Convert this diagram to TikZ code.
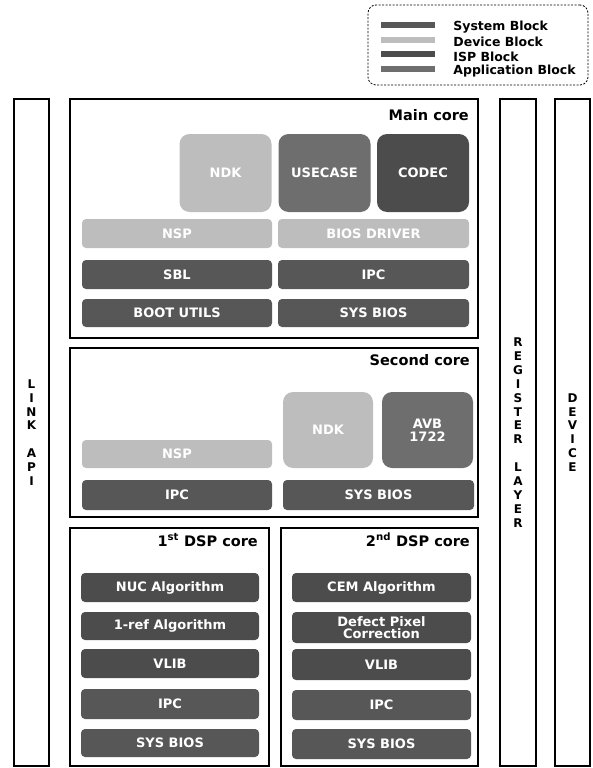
\documentclass[tikz,border=0pt]{standalone}
\usepackage{fontspec}
\setmainfont{DejaVu Sans}
\usetikzlibrary{positioning}

\definecolor{sysgray}{HTML}{575757}
\definecolor{devgray}{HTML}{BDBDBD}
\definecolor{ispgray}{HTML}{4C4C4C}
\definecolor{appgray}{HTML}{6E6E6E}

\tikzset{
	core/.style={draw=black, line width=2.4pt, inner sep=0pt},
	column/.style={core, minimum height=667pt, align=center,
		font=\bfseries\fontsize{12}{13.9}\selectfont},
	title/.style={anchor=base east, inner sep=0pt, font=\bfseries\fontsize{14.5}{16}\selectfont},
	blk/.style={inner sep=0pt, text=white, align=center, rounded corners=4pt,
		font=\bfseries\fontsize{13}{13}\selectfont},
	wide/.style={blk, minimum width=190pt, minimum height=29pt},
	dspbar/.style={blk, minimum width=178pt, minimum height=29pt},
	tile/.style={blk, rounded corners=10pt, minimum width=92pt, minimum height=78pt},
	keybar/.style={inner sep=0pt, minimum width=54pt, minimum height=6pt},
	keytext/.style={right=18pt of #1, yshift=-2pt, inner sep=0pt,
		font=\bfseries\fontsize{12.5}{13}\selectfont}
}

\begin{document}
\begin{tikzpicture}[x=1pt, y=-1pt]
	\useasboundingbox (0,0) rectangle (592,768);

	% Legend:
	\node[draw, dash pattern=on 2pt off 1.5pt, line width=0.8pt, rounded corners=8pt,
		minimum width=220pt, minimum height=80pt] (legend) at (478,45) {};
	\node[keybar, fill=sysgray] (keysys) at (408,25) {};
	\node[keybar, fill=devgray] (keydev) at (408,40) {};
	\node[keybar, fill=ispgray] (keyisp) at (408,54.5) {};
	\node[keybar, fill=appgray] (keyapp) at (408,69) {};
	\node[keytext=keysys] (keysystext) {System Block};
	\node[keytext=keydev] (keydevtext) {Device Block};
	\node[keytext=keyisp] (keyisptext) {ISP Block};
	\node[keytext=keyapp] (keyapptext) {Application Block};

	% Columns:
	\node[column, minimum width=35pt] (linkapi) at (31.5,432.5) {L\\I\\N\\K\\[13.9pt]A\\P\\I};
	\node[column, minimum width=36pt] (reglayer) at (518,432.5) {R\\E\\G\\I\\S\\T\\E\\R\\[13.9pt]L\\A\\Y\\E\\R};
	\node[column, minimum width=35pt] (device) at (572.5,432.5) {D\\E\\V\\I\\C\\E};

	% Cores:
	\node[core, minimum width=408pt, minimum height=239pt] (maincore) at (274,218.5) {};
	\node[core, minimum width=408pt, minimum height=169pt] (secondcore) at (274,432.5) {};
	\node[core, minimum width=199pt, minimum height=238pt] (dspone) at (169.5,647) {};
	\node[core, minimum width=197pt, minimum height=238pt] (dsptwo) at (379.5,647) {};

	\node[title] (maintitle) at (469,120) {Main core};
	\node[title] (secondtitle) at (470,365) {Second core};
	\node[title] (dsponetitle) at (258,546) {1\textsuperscript{st} DSP core};
	\node[title] (dsptwotitle) at (470,546) {2\textsuperscript{nd} DSP core};

	% Main core blocks:
	\node[tile, fill=devgray] (mndk) at (225.5,173) {NDK};
	\node[tile, fill=appgray] (musecase) at (324.5,173) {USECASE};
	\node[tile, fill=ispgray] (mcodec) at (423,173) {CODEC};
	\node[wide, fill=devgray] (mnsp) at (177,233.5) {NSP};
	\node[wide, fill=devgray, minimum width=191pt] (mbios) at (373.5,233.5) {BIOS DRIVER};
	\node[wide, fill=sysgray] (msbl) at (177,274.5) {SBL};
	\node[wide, fill=sysgray, minimum width=191pt] (mipc) at (373.5,274.5) {IPC};
	\node[wide, fill=sysgray, minimum height=28pt] (mboot) at (177,313) {BOOT UTILS};
	\node[wide, fill=sysgray, minimum width=191pt, minimum height=28pt] (msys) at (373.5,313) {SYS BIOS};

	% Second core blocks:
	\node[wide, fill=devgray, minimum height=28pt] (snsp) at (177,454) {NSP};
	\node[tile, fill=devgray, minimum width=90pt, minimum height=76pt] (sndk) at (328,430) {NDK};
	\node[tile, fill=appgray, minimum width=91pt, minimum height=76pt] (savb) at (427.5,430) {AVB\\1722};
	\node[wide, fill=sysgray, minimum height=30pt] (sipc) at (177,495) {IPC};
	\node[wide, fill=sysgray, minimum width=191pt, minimum height=30pt] (ssys) at (378.5,495) {SYS BIOS};

	% 1st DSP core blocks:
	\node[dspbar, fill=ispgray] (nuc) at (170,587.5) {NUC Algorithm};
	\node[dspbar, fill=ispgray, minimum height=28pt] (oneref) at (170,626) {1-ref Algorithm};
	\node[dspbar, fill=ispgray] (vlibone) at (170,663.5) {VLIB};
	\node[dspbar, fill=sysgray, minimum height=30pt] (ipcone) at (170,704) {IPC};
	\node[dspbar, fill=sysgray, minimum height=28pt] (sysone) at (170,743) {SYS BIOS};

	% 2nd DSP core blocks:
	\node[dspbar, fill=ispgray, minimum width=179pt] (cem) at (381.5,587.5) {CEM Algorithm};
	\node[dspbar, fill=ispgray, minimum width=179pt, minimum height=31pt,
		font=\bfseries\fontsize{13}{11.5}\selectfont] (defect) at (381.5,627.5) {Defect Pixel\\Correction};
	\node[dspbar, fill=ispgray, minimum width=179pt, minimum height=31pt] (vlibtwo) at (381.5,664.5) {VLIB};
	\node[dspbar, fill=sysgray, minimum width=179pt, minimum height=30pt] (ipctwo) at (381.5,705) {IPC};
	\node[dspbar, fill=sysgray, minimum width=179pt, minimum height=30pt] (systwo) at (381.5,744) {SYS BIOS};

\end{tikzpicture}
\end{document}
